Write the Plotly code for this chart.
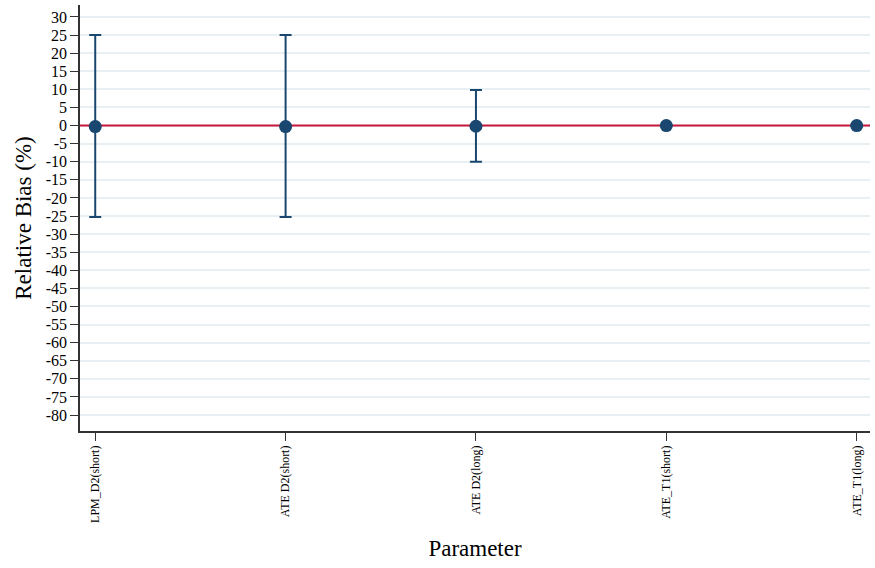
import plotly.graph_objects as go

categories = ["LPM_D2(short)", "ATE D2(short)", "ATE D2(long)", "ATE_T1(short)", "ATE_T1(long)"]
means = [-0.3, -0.3, -0.2, 0.0, 0.0]
upper = [25.0, 25.0, 9.8, 0.0, 0.0]
lower = [-25.3, -25.3, -10.0, 0.0, 0.0]
ytick_vals = list(range(-80, 31, 5))
ytick_text = [str(v) for v in ytick_vals]
ref_value = 0
x_range = [-0.08, 4.07]
y_range = [-84.4, 33.3]

err_plus = [u - m for u, m in zip(upper, means)]
err_minus = [m - l for m, l in zip(means, lower)]
xpos = list(range(len(categories)))

navy = "#1a476f"
fig = go.Figure()
fig.add_trace(go.Scatter(
    x=x_range, y=[ref_value, ref_value], mode="lines",
    line=dict(color="#c8173c", width=2), showlegend=False, hoverinfo="skip",
))
fig.add_trace(go.Scatter(
    x=xpos, y=means, mode="markers",
    marker=dict(color=navy, size=13),
    error_y=dict(type="data", symmetric=False, array=err_plus, arrayminus=err_minus,
                 color=navy, thickness=2, width=6),
    showlegend=False, cliponaxis=False,
))

font = "Liberation Serif"
fig.update_layout(
    width=875, height=568,
    margin=dict(l=80, r=5, t=5, b=137),
    plot_bgcolor="white", paper_bgcolor="white",
    font=dict(family=font, color="black"),
    xaxis=dict(
        range=x_range, tickmode="array", tickvals=xpos, ticktext=categories,
        tickangle=-90, tickfont=dict(size=12, family=font), ticks="outside", ticklen=8,
        tickcolor="#333", showgrid=False, showline=True, linecolor="#333", linewidth=1.5,
        zeroline=False, automargin=False,
        title=dict(text="Parameter", font=dict(size=23, family=font), standoff=18),
    ),
    yaxis=dict(
        range=y_range, tickmode="array", tickvals=ytick_vals, ticktext=ytick_text,
        tickfont=dict(size=16, family=font), ticks="outside", ticklen=8, tickcolor="#333",
        showgrid=True, gridcolor="#e8f0f3", gridwidth=1.5, automargin=False,
        showline=True, linecolor="#333", linewidth=1.5, zeroline=False,
        title=dict(text="Relative Bias (%)", font=dict(size=23, family=font), standoff=8),
    ),
)
fig.write_html("out.html", config={"displayModeBar": False},
               post_script="document.body.style.margin='0';")
